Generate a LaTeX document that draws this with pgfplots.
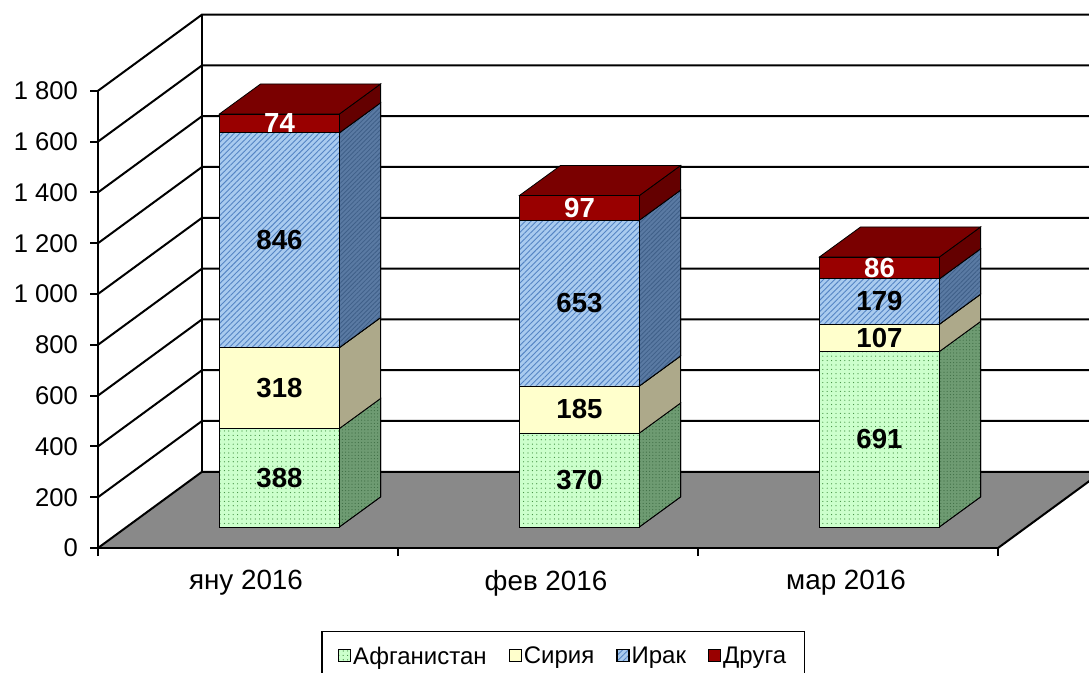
\documentclass[border=0pt]{standalone}
\usepackage{pgfplots}
\pgfplotsset{compat=1.18}
\usepackage{pgfplotstable}
\usepackage{fontspec}
\setmainfont{Liberation Sans}
\usetikzlibrary{patterns.meta}

\definecolor{floorgray}{HTML}{898989}
\definecolor{afgF}{HTML}{CCFFCC}
\definecolor{afgD}{HTML}{3C8C3C}
\definecolor{afgS}{HTML}{6E9B72}
\definecolor{afgSD}{HTML}{3F6E45}
\definecolor{syrF}{HTML}{FFFFCC}
\definecolor{syrS}{HTML}{ADA98A}
\definecolor{irqF}{HTML}{A9CBEF}
\definecolor{irqL}{HTML}{5585C4}
\definecolor{irqS}{HTML}{5A7AA3}
\definecolor{irqSL}{HTML}{3F5F88}
\definecolor{othF}{HTML}{990000}
\definecolor{othT}{HTML}{7A0000}
\definecolor{othS}{HTML}{640000}

\pgfplotstableread{
cat afg syr irq oth
0 388 318 846 74
1 370 185 653 97
2 691 107 179 86
}\data

\pgfplotsset{
  myleg/.style={legend image code/.code={\draw[##1,draw=black,line width=0.6pt] (0pt,-2.2pt) rectangle (6pt,3.8pt);}},
  afgfront/.style={fill=afgF, draw=black, line width=0.4pt, postaction={pattern={Dots[distance=2.2pt,radius=0.3pt]}, pattern color=afgD}},
  syrfront/.style={fill=syrF, draw=black, line width=0.4pt},
  irqfront/.style={fill=irqF, draw=black, line width=0.4pt, postaction={pattern={Lines[angle=45,distance=2pt,line width=0.45pt]}, pattern color=irqL}},
  othfront/.style={fill=othF, draw=black, line width=0.4pt},
  afgside/.style={fill=afgS, draw=black, line width=0.4pt, postaction={pattern={Dots[distance=1.6pt,radius=0.3pt]}, pattern color=afgSD}},
  syrside/.style={fill=syrS, draw=black, line width=0.4pt},
  irqside/.style={fill=irqS, draw=black, line width=0.4pt, postaction={pattern={Lines[angle=45,distance=1.6pt,line width=0.4pt]}, pattern color=irqSL}},
  othside/.style={fill=othS, draw=black, line width=0.4pt},
  othtop/.style={fill=othT, draw=black, line width=0.4pt},
  lbl/.style={only marks, mark=*, mark size=0pt, mark options={draw=none,fill=none},
    nodes near coords, point meta=explicit,
    every node near coord/.append style={anchor=center, text=#1, font=\bfseries\fontsize{13.8}{16}\selectfont}},
  overlay axis/.style={scale only axis, width=450pt, height=228.6pt,
    xmin=-0.5, xmax=2.5, ymin=-83, ymax=1717, hide axis, clip=false},
}

\newcommand\barfaces[1]{%
  \pgfplotstablegetelem{#1}{afg}\of\data\let\bVa\pgfplotsretval
  \pgfplotstablegetelem{#1}{syr}\of\data\let\bVb\pgfplotsretval
  \pgfplotstablegetelem{#1}{irq}\of\data\let\bVc\pgfplotsretval
  \pgfplotstablegetelem{#1}{oth}\of\data\let\bVd\pgfplotsretval
  \pgfmathsetmacro\bXl{#1-0.095}%
  \pgfmathsetmacro\bXr{#1+0.305}%
  \pgfmathsetmacro\bXlb{#1-0.095+0.137}%
  \pgfmathsetmacro\bXrb{#1+0.305+0.137}%
  \pgfmathsetmacro\bCa{\bVa}%
  \pgfmathsetmacro\bCb{\bVa+\bVb}%
  \pgfmathsetmacro\bCc{\bVa+\bVb+\bVc}%
  \pgfmathsetmacro\bCd{\bVa+\bVb+\bVc+\bVd}%
  \pgfmathsetmacro\bDa{\bCa+118}%
  \pgfmathsetmacro\bDb{\bCb+118}%
  \pgfmathsetmacro\bDc{\bCc+118}%
  \pgfmathsetmacro\bDd{\bCd+118}%
  \edef\bTemp{%
    \noexpand\addplot[afgside] coordinates {(\bXr,0) (\bXr,\bCa) (\bXrb,\bDa) (\bXrb,118)} -- cycle;
    \noexpand\addplot[syrside] coordinates {(\bXr,\bCa) (\bXr,\bCb) (\bXrb,\bDb) (\bXrb,\bDa)} -- cycle;
    \noexpand\addplot[irqside] coordinates {(\bXr,\bCb) (\bXr,\bCc) (\bXrb,\bDc) (\bXrb,\bDb)} -- cycle;
    \noexpand\addplot[othside] coordinates {(\bXr,\bCc) (\bXr,\bCd) (\bXrb,\bDd) (\bXrb,\bDc)} -- cycle;
    \noexpand\addplot[othtop] coordinates {(\bXl,\bCd) (\bXr,\bCd) (\bXrb,\bDd) (\bXlb,\bDd)} -- cycle;
  }\bTemp
}

\begin{document}
\begin{tikzpicture}
% ---- frame: walls, floor, axes
\begin{axis}[
  scale only axis, width=450pt, height=228.6pt,
  xmin=-0.5, xmax=2.5, ymin=0, ymax=1800,
  clip=false, axis on top,
  axis x line*=bottom, axis y line*=left,
  axis line style={line width=1pt, black},
  ytick={0,200,...,1800},
  xtick={0,1,2}, xticklabels={яну 2016, фев 2016, мар 2016},
  minor xtick={-0.5,0.5,1.5,2.5},
  major x tick style={draw=none},
  tick align=outside,
  tick style={black, line width=1pt},
  major tick length=4pt, minor tick length=4pt,
  yticklabel style={font=\fontsize{12.8}{15}\selectfont, xshift=-2.5pt},
  xticklabel style={font=\fontsize{13.9}{16}\selectfont, yshift=-3.5pt, xshift=-1pt},
  /pgf/number format/assume math mode=true,
  /pgf/number format/1000 sep={\ },
]
\fill[floorgray] (axis cs:-0.5,0) -- (axis cs:2.5,0) -- ++(52pt,38.1pt) -- ++(-450pt,0pt) -- cycle;
\draw[line width=1pt] (axis cs:2.5,0) -- ++(52pt,38.1pt);
\pgfplotsinvokeforeach{0,200,...,1800}{
  \draw[line width=1pt] (axis cs:-0.5,#1) -- ++(52pt,38.1pt) -- ++(460pt,0pt);
}
\draw[line width=1pt] (axis cs:-0.5,0) ++(52pt,38.1pt) -- ++(0pt,228.6pt);
\coordinate (TL) at (axis cs:-0.8267,2157.5);
\coordinate (BR) at (axis cs:2.8033,-492.1);
\end{axis}

% ---- front faces of the stacked bars
\begin{axis}[overlay axis,
  ybar stacked, bar width=60pt,
  legend columns=4,
  legend style={at={(0.5167,-0.1816)}, anchor=north, draw=black, line width=0.6pt,
    font=\fontsize{12}{14}\selectfont, inner xsep=8pt, inner ysep=5.5pt,
    nodes={inner xsep=1pt},
    /tikz/every even column/.append style={column sep=10pt}},
]
\addplot[afgfront, bar shift=15.75pt, myleg] table[x=cat, y=afg] {\data};
\addplot[syrfront, bar shift=15.75pt, myleg] table[x=cat, y=syr] {\data};
\addplot[irqfront, bar shift=15.75pt, myleg] table[x=cat, y=irq] {\data};
\addplot[othfront, bar shift=15.75pt, myleg] table[x=cat, y=oth] {\data};
\legend{Афганистан, Сирия, Ирак, Друга}
\end{axis}

% ---- side and top faces, value labels
\begin{axis}[overlay axis, /pgf/number format/assume math mode=true]
\barfaces{0}
\barfaces{1}
\barfaces{2}
\addplot[lbl=black] table[x expr=\thisrow{cat}+0.105, y expr=\thisrow{afg}/2, meta=afg] {\data};
\addplot[lbl=black] table[x expr=\thisrow{cat}+0.105, y expr=\thisrow{afg}+\thisrow{syr}/2, meta=syr] {\data};
\addplot[lbl=black] table[x expr=\thisrow{cat}+0.105, y expr=\thisrow{afg}+\thisrow{syr}+\thisrow{irq}/2, meta=irq] {\data};
\addplot[lbl=white] table[x expr=\thisrow{cat}+0.105, y expr=\thisrow{afg}+\thisrow{syr}+\thisrow{irq}+\thisrow{oth}/2, meta=oth] {\data};
\end{axis}
\pgfresetboundingbox
\useasboundingbox (TL) rectangle (BR);
\end{tikzpicture}
\end{document}
